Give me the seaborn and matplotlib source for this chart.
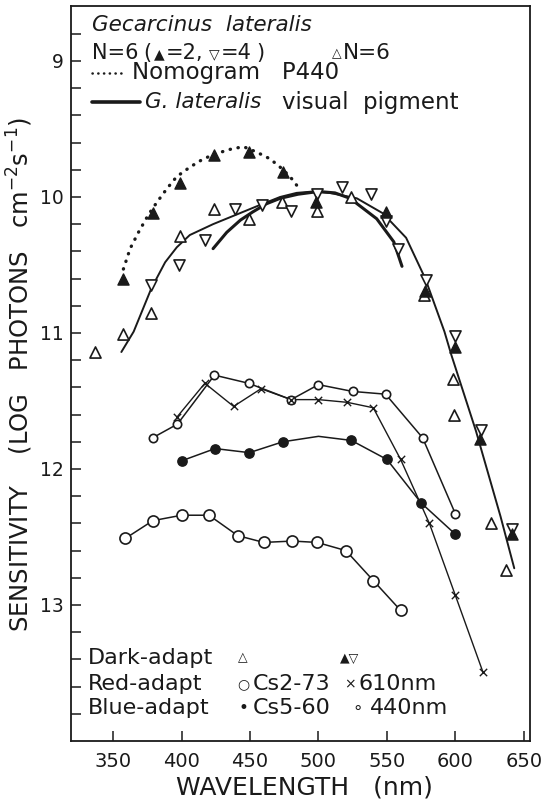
import matplotlib
matplotlib.use("Agg")
import matplotlib.pyplot as plt
from matplotlib.lines import Line2D
import pandas as pd
import seaborn as sns

# ---------------- data ----------------
nomo_x = [357.5, 362.4, 368.5, 375.8, 381.9, 389.2, 396.5, 406.2, 415.9, 425.7,
          435.4, 445.1, 454.8, 464.6, 471.9, 479.2, 485.3]
nomo_y = [10.53, 10.38, 10.26, 10.13, 10.04, 9.94, 9.85, 9.78, 9.72, 9.68,
          9.65, 9.63, 9.67, 9.72, 9.78, 9.85, 9.93]

pigA_x = [356, 365, 378, 388, 396.5, 406, 423, 440, 457, 472, 484, 496, 508,
          528, 547, 564, 578, 592, 597, 615, 633, 643]
pigA_y = [11.14, 10.99, 10.67, 10.48, 10.37, 10.28, 10.20, 10.13, 10.06, 10.00,
          9.97, 9.96, 9.97, 10.01, 10.12, 10.30, 10.60, 10.99, 11.16, 11.72,
          12.35, 12.73]

pigB_x = [423, 433, 443, 452, 462, 472, 485, 500, 512, 523, 542.5, 555, 561]
pigB_y = [10.38, 10.26, 10.17, 10.11, 10.05, 10.01, 9.98, 9.96, 9.97, 10.01,
          10.16, 10.33, 10.51]

filled_tri_x = [357, 379, 399, 424, 449, 474, 498, 549, 578, 600, 618, 641]
filled_tri_y = [10.60, 10.12, 9.90, 9.69, 9.67, 9.82, 10.04, 10.11, 10.69,
                11.10, 11.78, 12.48]

open_up_x = [337, 357.5, 377.5, 399, 424, 449, 473, 499, 524, 577, 598, 599,
             626, 637]
open_up_y = [11.14, 11.01, 10.85, 10.29, 10.09, 10.16, 10.04, 10.10, 10.00,
             10.72, 11.34, 11.60, 12.40, 12.74]

open_down_x = [378, 398, 417, 439, 459, 480, 499, 517, 538, 549, 558, 578.5,
               600, 619, 641]
open_down_y = [10.65, 10.50, 10.32, 10.09, 10.06, 10.10, 9.98, 9.93, 9.98,
               10.18, 10.38, 10.61, 11.02, 11.71, 12.44]

blue440_x = [379, 397, 424, 449, 480, 500, 525, 549, 576, 600]
blue440_y = [11.77, 11.67, 11.31, 11.37, 11.49, 11.38, 11.43, 11.45, 11.77, 12.33]

red610_x = [396.5, 417, 438, 458, 480, 500, 521, 540, 560, 581, 600, 620]
red610_y = [11.62, 11.37, 11.54, 11.41, 11.49, 11.49, 11.51, 11.55, 11.93,
            12.40, 12.93, 13.49]

cs560_x = [400, 424.5, 449.5, 474, 524, 550, 575, 600]
cs560_y = [11.94, 11.85, 11.88, 11.80, 11.79, 11.93, 12.25, 12.48]
cs560_line_x = [400, 424.5, 449.5, 474, 500, 524, 550, 575, 600]
cs560_line_y = [11.94, 11.85, 11.88, 11.80, 11.76, 11.79, 11.93, 12.25, 12.48]

cs273_x = [359, 379, 400, 420, 441, 460, 481, 499, 520, 540, 560]
cs273_y = [12.51, 12.38, 12.34, 12.34, 12.49, 12.54, 12.53, 12.54, 12.60,
           12.82, 13.04]

x_ticks = [350, 400, 450, 500, 550, 600, 650]
y_ticks = [9, 10, 11, 12, 13]

# ---------------- figure ----------------
sns.set_style("ticks")
plt.rcParams['font.family'] = ['DejaVu Sans']

W, H = 545, 802
fig = plt.figure(figsize=(W / 100, H / 100), dpi=100)
fig.patch.set_facecolor('white')
ax = fig.add_axes([70.7 / W, 1 - 741 / H, (530 - 70.7) / W, (741 - 6) / H])
ax.set_facecolor('white')

ink = '#1a1a1a'


def line(xs, ys, lw=1.0, color=ink, z=2):
    df = pd.DataFrame({'x': xs, 'y': ys})
    sns.lineplot(data=df, x='x', y='y', ax=ax, sort=False, estimator=None,
                 color=color, lw=lw, zorder=z)


def pts(xs, ys, marker, size, face, edge=ink, lw=1.0, z=4):
    df = pd.DataFrame({'x': xs, 'y': ys})
    sns.scatterplot(data=df, x='x', y='y', ax=ax, marker=marker, s=size,
                    facecolor=face, edgecolor=edge, linewidth=lw, zorder=z)


# nomogram (dotted)
df = pd.DataFrame({'x': nomo_x, 'y': nomo_y})
l = sns.lineplot(data=df, x='x', y='y', ax=ax, sort=False, estimator=None,
                 color=ink, lw=2.4, zorder=2)
l.lines[-1].set_linestyle((0, (0.1, 2.3)))
l.lines[-1].set_dash_capstyle('round')

# visual pigment curves
line(pigA_x, pigA_y, lw=1.4)
line(pigB_x, pigB_y, lw=2.2)

# adaptation curves
line(blue440_x, blue440_y, lw=1.1)
line(red610_x, red610_y, lw=1.0)
line(cs560_line_x, cs560_line_y, lw=1.1)
line(cs273_x, cs273_y, lw=1.1)

# markers
pts(open_up_x, open_up_y, '^', 64, 'white', lw=1.2)
pts(open_down_x, open_down_y, 'v', 64, 'white', lw=1.2)
pts(filled_tri_x, filled_tri_y, '^', 64, ink, lw=1.0)
pts(blue440_x, blue440_y, 'o', 36, 'white', lw=1.2)
pts(red610_x, red610_y, 'x', 28, ink, lw=1.0)
pts(cs560_x, cs560_y, 'o', 45, ink, lw=1.0)
pts(cs273_x, cs273_y, 'o', 64, 'white', lw=1.2)

# axes
ax.set_xlim(319, 654.5)
ax.set_ylim(14.0, 8.596)
ax.set_xticks(x_ticks)
ax.set_xticklabels([str(v) for v in x_ticks])
ax.set_yticks(y_ticks)
ax.set_yticklabels([str(v) for v in y_ticks])
ax.set_yticks([v / 10 for v in range(88, 140, 2) if v % 10 != 0], minor=True)
ax.tick_params(axis='both', which='both', direction='in', color=ink,
               width=1.1, labelsize=14, labelcolor=ink)
ax.tick_params(axis='y', which='both', length=7, pad=5)
ax.tick_params(axis='y', which='major', labelsize=13.5)
ax.tick_params(axis='x', which='major', length=7.5, pad=8)
for s in ax.spines.values():
    s.set_visible(True)
    s.set_color(ink)
    s.set_linewidth(1.3)
ax.set_xlabel('')
ax.set_ylabel('')


def px(x, y):
    return x / W, 1 - y / H


def t(x, y, s, size=16, **kw):
    kw.setdefault('ha', 'left')
    kw.setdefault('va', 'center')
    fig.text(*px(x, y), s, fontsize=size, color=ink, **kw)


t(304, 787, 'WAVELENGTH   (nm)', 18, ha='center')
t(20, 375,
  'SENSITIVITY    (LOG   PHOTONS   cm$^{\\mathregular{-2}}$s$^{\\mathregular{-1}}$)',
  17.5, ha='center', rotation=90)

# top legend
t(92, 25, 'Gecarcinus  lateralis', 15.5, style='italic')
t(92, 53, 'N=6', 15)
t(143, 53, '(', 15)
t(154, 54, '\u25B2', 10)
t(166, 53, '=2,', 15)
t(209, 54, '\u25BD', 10)
t(221, 53, '=4', 15)
t(256, 53, ')', 15)
t(332, 54, '\u25B3', 9)
t(343, 53, 'N=6', 15.5)
fig.add_artist(Line2D([92 / W, 125 / W], [1 - 72.7 / H, 1 - 72.7 / H],
                      color=ink, lw=1.8, ls=(0, (0.1, 2.2)),
                      dash_capstyle='round'))
t(132, 73, 'Nomogram   P440', 16.5)
fig.add_artist(Line2D([92 / W, 140 / W], [1 - 101.7 / H, 1 - 101.7 / H],
                      color=ink, lw=2.6))
t(145, 102, 'G. lateralis', 15.5, style='italic')
t(282, 102, 'visual  pigment', 16.5)

# bottom legend
for label, yy in [('Dark-adapt', 658), ('Red-adapt', 684), ('Blue-adapt', 708)]:
    t(88, yy, label, 16)
t(243, 658, '\u25B3', 9, ha='center')
t(350, 658, '\u25B2\u25BD', 9, ha='center')
t(243, 684, '\u25CB', 10, ha='center')
t(253, 684, 'Cs2-73', 16)
t(350, 684, '\u00D7', 10, ha='center')
t(358, 684, '610nm', 16)
t(243, 708, '\u2022', 12, ha='center')
t(253, 708, 'Cs5-60', 16)
t(358, 708, '\u2218', 12, ha='center')
t(370, 708, '440nm', 16)

fig.savefig('out.png', dpi=100, facecolor='white')
